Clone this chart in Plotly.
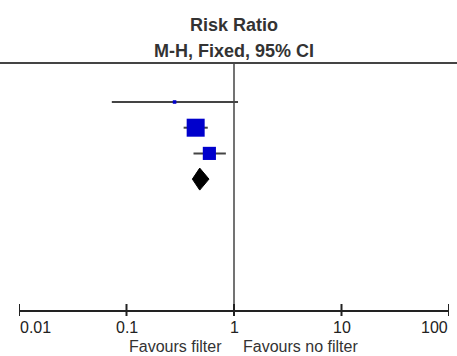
import math
import plotly.graph_objects as go

# ---- data ----
study_rr = [0.28, 0.44, 0.59]
study_lo = [0.073, 0.34, 0.42]
study_hi = [1.09, 0.57, 0.84]
study_weight = [2.5, 63.6, 33.9]
total_rr = 0.48
total_lo = 0.41
total_hi = 0.585
tick_vals = [0.01, 0.1, 1, 10, 100]
tick_text = ["0.01", "0.1", "1", "10", "100"]
title_lines = ["Risk Ratio", "M-H, Fixed, 95% CI"]
favours = ["Favours filter", "Favours no filter"]

W, H = 457, 356
ML, MR, MT, MB = 19, 8, 63, 46
PW = W - ML - MR
PH = H - MT - MB

rows = list(range(1, len(study_rr) + 1))
total_row = len(study_rr) + 1
row_px = 25.7
y_top = 1 - (102 - MT) / row_px
y_bot = y_top + PH / row_px

FONT = "Liberation Sans, Arial, sans-serif"
LINE = "#444444"

fig = go.Figure()

# CI lines
xs, ys = [], []
for r, lo, hi in zip(rows, study_lo, study_hi):
    xs += [lo, hi, None]
    ys += [r, r, None]
fig.add_trace(go.Scatter(x=xs, y=ys, mode="lines",
                         line=dict(color=LINE, width=2), hoverinfo="skip", showlegend=False))

# squares
maxw = max(study_weight)
sizes = [18 * math.sqrt(w / maxw) for w in study_weight]
fig.add_trace(go.Scatter(x=study_rr, y=rows, mode="markers",
                         marker=dict(symbol="square", size=sizes, color="#0000CC",
                                     opacity=1, line=dict(width=0)),
                         showlegend=False))

# diamond
hh = 11 / row_px
fig.add_trace(go.Scatter(x=[total_lo, total_rr, total_hi, total_rr, total_lo],
                         y=[total_row, total_row - hh, total_row, total_row + hh, total_row],
                         mode="lines", fill="toself", fillcolor="black",
                         line=dict(color="black", width=1), showlegend=False))

shapes = []
# header line
shapes.append(dict(type="line", xref="paper", yref="paper",
                   x0=-ML / PW, x1=1 + MR / PW, y0=1, y1=1,
                   line=dict(color=LINE, width=2)))
# line of no effect
shapes.append(dict(type="line", xref="x", yref="paper", x0=1, x1=1, y0=0, y1=1,
                   line=dict(color=LINE, width=1.5)))
# ticks
for tv in tick_vals:
    shapes.append(dict(type="line", xref="x", yref="paper", ysizemode="pixel", yanchor=0,
                       x0=tv, x1=tv, y0=-6, y1=6, line=dict(color="#222222", width=2)))

annotations = []
annotations.append(dict(text="<b>%s</b>" % title_lines[0], xref="x", yref="paper",
                        x=0, y=1, yshift=63 - 25, showarrow=False,
                        font=dict(family=FONT, size=18, color="#333333"), yanchor="middle"))
annotations.append(dict(text="<b>%s</b>" % title_lines[1], xref="x", yref="paper",
                        x=0, y=1, yshift=63 - 51, showarrow=False,
                        font=dict(family=FONT, size=18, color="#333333"), yanchor="middle"))
for i, (tv, tt) in enumerate(zip(tick_vals, tick_text)):
    anchor = "left" if i == 0 else ("right" if i == len(tick_vals) - 1 else "center")
    annotations.append(dict(text=tt, xref="x", yref="paper", x=math.log10(tv), y=0,
                            yshift=-17, xanchor=anchor, yanchor="middle", showarrow=False,
                            borderpad=0,
                            font=dict(family=FONT, size=16, color="#222222")))
annotations.append(dict(text=favours[0], xref="x", yref="paper", x=0, y=0, yshift=-36,
                        xshift=-11, xanchor="right", yanchor="middle", showarrow=False,
                        borderpad=0,
                        font=dict(family=FONT, size=16, color="#333333")))
annotations.append(dict(text=favours[1], xref="x", yref="paper", x=0, y=0, yshift=-36,
                        xshift=8, xanchor="left", yanchor="middle", showarrow=False,
                        borderpad=0,
                        font=dict(family=FONT, size=16, color="#333333")))

fig.update_layout(
    width=W, height=H,
    margin=dict(l=ML, r=MR, t=MT, b=MB, pad=0),
    paper_bgcolor="white", plot_bgcolor="white",
    xaxis=dict(type="log", range=[-2, 2], showgrid=False, zeroline=False,
               showline=True, linecolor="#222222", linewidth=2,
               showticklabels=False, ticks=""),
    yaxis=dict(range=[y_bot, y_top], visible=False, showgrid=False, zeroline=False),
    shapes=shapes, annotations=annotations, showlegend=False,
)

fig.write_html("out.html")
